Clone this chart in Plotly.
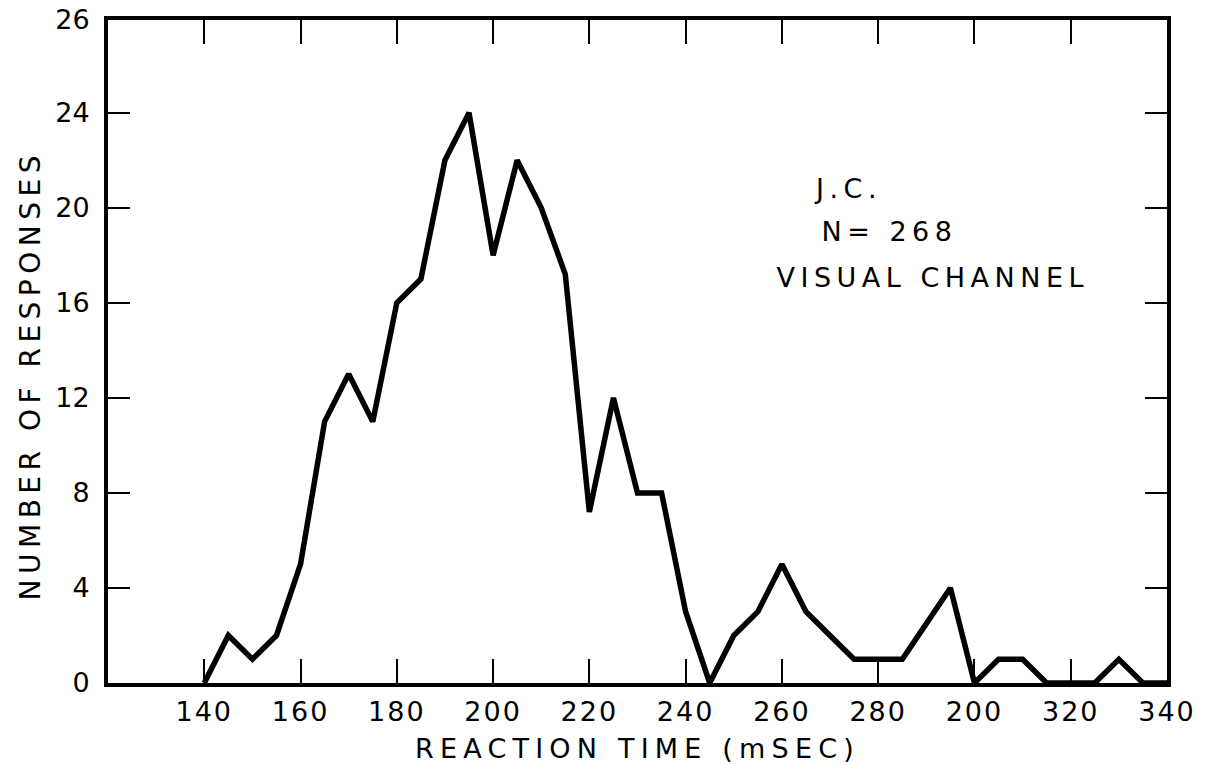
import plotly.graph_objects as go

# Data (reaction time in ms, number of responses)
reaction_time = [140, 145, 150, 155, 160, 165, 170, 175, 180, 185, 190, 195,
                 200, 205, 210, 215, 220, 225, 230, 235, 240, 245, 250, 255,
                 260, 265, 270, 275, 280, 285, 290, 295, 300, 305, 310, 315,
                 320, 325, 330, 335, 340]
responses = [0, 2, 1, 2, 5, 11, 13, 11, 16, 17, 22, 24,
             18, 22, 20, 17.2, 7.2, 12, 8, 8, 3, 0, 2, 3,
             5, 3, 2, 1, 1, 1, 2.5, 4, 0, 1, 1, 0,
             0, 0, 1, 0, 0]

x_tickvals = [140, 160, 180, 200, 220, 240, 260, 280, 300, 320, 340]
x_ticktext = ["140", "160", "180", "200", "220", "240", "260", "280", "200", "320", "340"]
y_tickvals = [0, 4, 8, 12, 16, 20, 24, 27.9]
y_ticktext = ["0", "4", "8", "12", "16", "20", "24", "26"]

annotation_lines = ["J.C.", "N= 268", "VISUAL CHANNEL"]
annotation_x = [273.7, 282.3, 291.4]
annotation_y = [20.8, 19.0, 17.05]

FONT = "DejaVu Sans"

fig = go.Figure()
fig.add_trace(go.Scatter(
    x=reaction_time, y=responses, mode="lines",
    line=dict(color="black", width=5.5),
    showlegend=False, hoverinfo="skip",
))

fig.update_layout(
    width=1208, height=765,
    margin=dict(l=108, r=41, t=20, b=82, autoexpand=False),
    paper_bgcolor="white", plot_bgcolor="white",
    font=dict(family=FONT, color="black"),
    showlegend=False,
)

fig.update_xaxes(
    range=[120, 340], tickvals=x_tickvals, ticktext=x_ticktext,
    automargin=False,
    showgrid=False, zeroline=False,
    showline=True, linecolor="black", linewidth=4, mirror="ticks",
    ticks="inside", ticklen=24, tickwidth=2, tickcolor="black",
    tickfont=dict(family=FONT, size=27, color="black"),
    ticklabelstandoff=2,
    title=dict(text="REACTION TIME (mSEC)", font=dict(family=FONT, size=27, color="black"), standoff=14),
)
fig.update_yaxes(
    range=[0, 27.9], tickvals=y_tickvals, ticktext=y_ticktext,
    automargin=False,
    showgrid=False, zeroline=False,
    showline=True, linecolor="black", linewidth=4, mirror="ticks",
    ticks="inside", ticklen=22, tickwidth=2, tickcolor="black",
    tickfont=dict(family=FONT, size=27, color="black"),
    ticklabelstandoff=9,
)

# Y-axis title (placed slightly below the centre, as in the reference)
fig.add_annotation(
    x=-0.0737, y=12.95, xref="paper", yref="y", text="NUMBER OF RESPONSES",
    textangle=-90, showarrow=False, xanchor="center", yanchor="middle",
    font=dict(family=FONT, size=28, color="black"),
)

# Annotation block in data coordinates
for text, ax_, ay_ in zip(annotation_lines, annotation_x, annotation_y):
    fig.add_annotation(
        x=ax_, y=ay_, xref="x", yref="y", text=text, showarrow=False,
        font=dict(family=FONT, size=27, color="black"), xanchor="center", yanchor="middle",
    )

# Page without default body margin; widely spaced lettering as in the original
post = (
    "document.body.style.margin='0';"
    "var s=document.createElement('style');"
    "s.textContent='body{margin:0} .annotation-text{letter-spacing:5.5px} "
    ".g-xtitle text{letter-spacing:6.2px} "
    ".xtick text{letter-spacing:2px}';"
    "document.head.appendChild(s);"
)

fig.write_html("out.html", post_script=post, config={"displayModeBar": False})
